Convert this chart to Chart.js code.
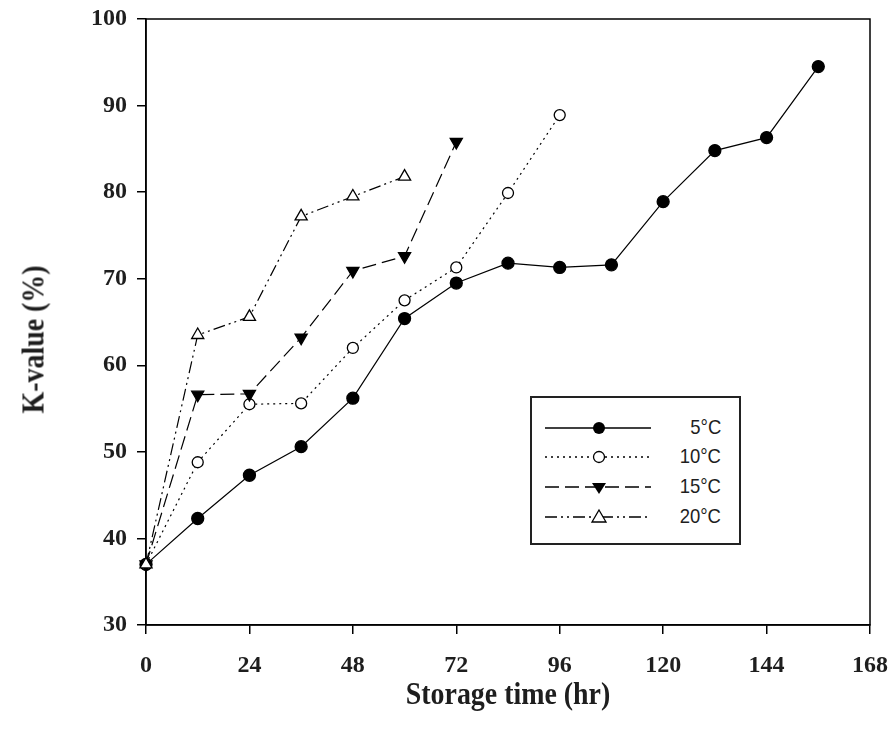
<!DOCTYPE html>
<html>
<head>
<meta charset="utf-8">
<script src="https://cdn.jsdelivr.net/npm/chart.js@4/dist/chart.umd.min.js"></script>
<style>
  body { margin: 0; background: #fff; }
  #wrap { position: relative; width: 893px; height: 742px; }
  .ttl {
    position: absolute; font-family: "Liberation Serif", "Times New Roman", serif;
    font-weight: bold; font-size: 31px; line-height: 31px; color: #1e1e1e;
    white-space: nowrap; text-align: center;
  }
  #legend {
    position: absolute; left: 530px; top: 396px; width: 207px; height: 145px;
    border: 2px solid #222; background: #fff;
  }
  .row { position: absolute; left: 0; width: 207px; height: 20px; }
  .row svg { position: absolute; left: 13px; top: 0; }
  .row span {
    position: absolute; right: 18px; top: -3px; font-family: "Liberation Sans", Arial, sans-serif;
    font-size: 21px; line-height: 24px; color: #1e1e1e; transform: scaleX(0.88); transform-origin: right center;
  }
</style>
</head>
<body>
<div id="wrap">
  <canvas id="chart" width="893" height="742"></canvas>
  <div class="ttl" style="left:358px; top:678px; width:300px; transform:scaleX(0.9);">Storage time (hr)</div>
  <div class="ttl" style="left:-117px; top:324px; width:300px; transform:rotate(-90deg) scaleX(0.9);">K-value (%)</div>
  <div id="legend"></div>
</div>
<script>
// ---- data ----
const seriesNames = ["5°C", "10°C", "15°C", "20°C"];

const hours5 = [0, 12, 24, 36, 48, 60, 72, 84, 96, 108, 120, 132, 144, 156];
const kValue5 = [37, 42.3, 47.3, 50.6, 56.2, 65.4, 69.5, 71.8, 71.3, 71.6, 78.9, 84.8, 86.3, 94.5];

const hours10 = [0, 12, 24, 36, 48, 60, 72, 84, 96];
const kValue10 = [37, 48.8, 55.5, 55.6, 62.0, 67.5, 71.3, 79.9, 88.9];

const hours15 = [0, 12, 24, 36, 48, 60, 72];
const kValue15 = [37, 56.6, 56.7, 63.2, 70.9, 72.6, 85.8];

const hours20 = [0, 12, 24, 36, 48, 60];
const kValue20 = [37, 63.5, 65.6, 77.2, 79.5, 81.8];

const xTicks = [0, 24, 48, 72, 96, 120, 144, 168];
const yTicks = [30, 40, 50, 60, 70, 80, 90, 100];

/* ============================
   STYLES
============================ */
const dashes = [[], [2, 4], [14, 6], [12, 4, 2, 4, 2, 4]];
const pointStyles = ["circle", "circle", "triangle", "triangle"];
const pointRot = [0, 0, 180, 0];
const pointFill = ["#000", "#fff", "#000", "#fff"];
const pointRadius = [6, 5.5, 7, 7];

function toXY(xs, ys) {
  return xs.map((x, i) => ({ x: x, y: ys[i] }));
}

const allSeries = [
  toXY(hours5, kValue5),
  toXY(hours10, kValue10),
  toXY(hours15, kValue15),
  toXY(hours20, kValue20),
];

const datasets = allSeries.map((pts, i) => ({
  label: seriesNames[i],
  data: pts,
  borderColor: "#000",
  borderWidth: 1.2,
  borderDash: dashes[i],
  pointStyle: pointStyles[i],
  rotation: pointRot[i],
  pointRadius: pointRadius[i],
  pointBackgroundColor: pointFill[i],
  pointBorderColor: "#000",
  pointBorderWidth: 1.3,
  tension: 0,
  clip: false,
  order: 4 - i,
}));

// top + right frame lines
const framePlugin = {
  id: "frame",
  beforeDatasetsDraw(chart) {
    const { ctx, chartArea: a } = chart;
    ctx.save();
    ctx.strokeStyle = "#000";
    ctx.lineWidth = 1.5;
    ctx.strokeRect(a.left, a.top, a.right - a.left, a.bottom - a.top);
    ctx.restore();
  },
};

const tickFont = { family: "'Liberation Serif', 'Times New Roman', serif", size: 24, weight: "bold" };

new Chart(document.getElementById("chart"), {
  type: "line",
  data: { datasets: datasets },
  options: {
    responsive: false,
    animation: false,
    layout: { padding: { top: 19, right: 23, left: 0, bottom: 0 } },
    plugins: { legend: { display: false }, tooltip: { enabled: false } },
    scales: {
      x: {
        type: "linear",
        min: 0,
        max: 168,
        afterBuildTicks: (s) => { s.ticks = xTicks.map((v) => ({ value: v })); },
        afterFit: (s) => { s.height = 117; s.paddingLeft = 0; s.paddingRight = 0; },
        ticks: { font: tickFont, color: "#1e1e1e", padding: 17, maxRotation: 0 },
        grid: { display: true, drawOnChartArea: false, drawTicks: true, tickLength: 9, color: "#000", lineWidth: 1.5 },
        border: { display: true, color: "#000", width: 1.5 },
      },
      y: {
        type: "linear",
        min: 30,
        max: 100,
        afterBuildTicks: (s) => { s.ticks = yTicks.map((v) => ({ value: v })); },
        afterFit: (s) => { s.width = 146; s.paddingTop = 0; s.paddingBottom = 0; },
        ticks: { font: tickFont, color: "#1e1e1e", padding: 10 },
        grid: { display: true, drawOnChartArea: false, drawTicks: true, tickLength: 9, color: "#000", lineWidth: 1.5 },
        border: { display: true, color: "#000", width: 1.5 },
      },
    },
  },
  plugins: [framePlugin],
});

/* ============================
   LEGEND (html)
============================ */
const rowTops = [20, 49, 79, 109];
const legend = document.getElementById("legend");
seriesNames.forEach((name, i) => {
  const row = document.createElement("div");
  row.className = "row";
  row.style.top = rowTops[i] + "px";
  let marker = "";
  if (i === 0) marker = '<circle cx="54" cy="10" r="6" fill="#000"/>';
  if (i === 1) marker = '<circle cx="54" cy="10" r="5.5" fill="#fff" stroke="#000" stroke-width="1.3"/>';
  if (i === 2) marker = '<polygon points="47,6 61,6 54,17" fill="#000"/>';
  if (i === 3) marker = '<polygon points="54,3 61,15 47,15" fill="#fff" stroke="#000" stroke-width="1.3"/>';
  row.innerHTML =
    '<svg width="106" height="20"><line x1="0" y1="10" x2="106" y2="10" stroke="#000" stroke-width="1.3" stroke-dasharray="' +
    dashes[i].join(" ") + '"/>' + marker + "</svg><span>" + name + "</span>";
  legend.appendChild(row);
});
</script>
</body>
</html>
